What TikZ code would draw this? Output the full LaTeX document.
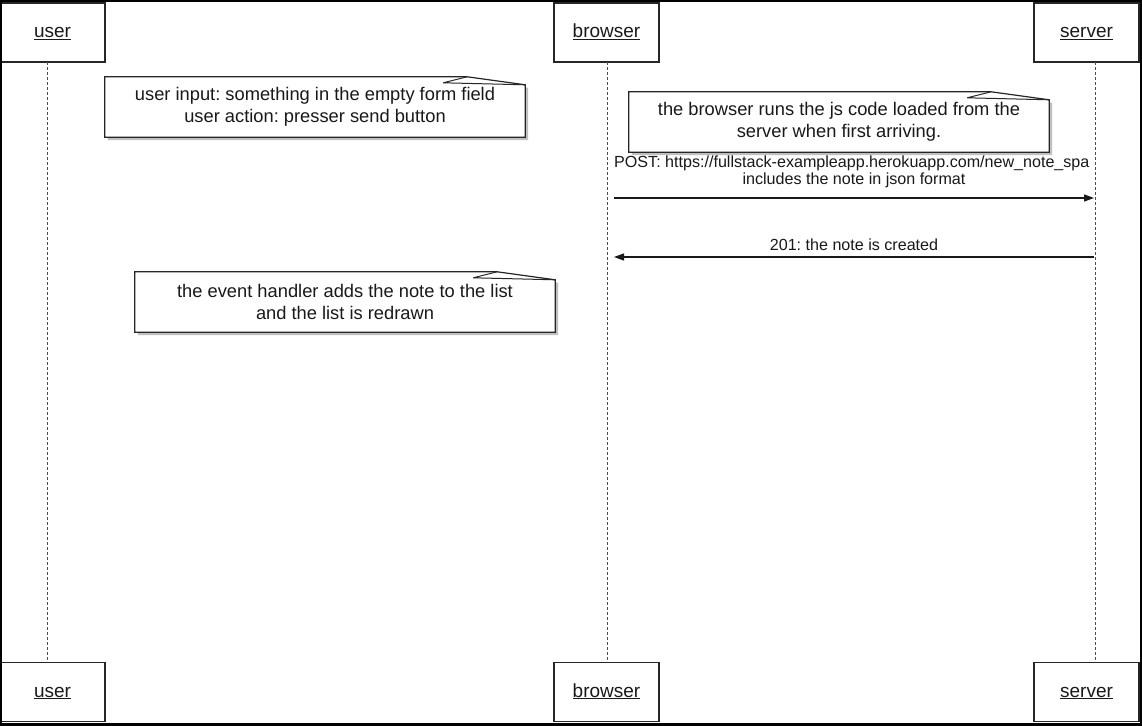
\documentclass[tikz,border=0pt]{standalone}
\usepackage{fontspec}
\setmainfont{Liberation Sans}
\usetikzlibrary{calc,arrows.meta,backgrounds}
\frenchspacing

% folded-corner note with a soft drop shadow, drawn behind node #1
\newcommand\foldednote[1]{%
  \begin{pgfonlayer}{background}
    \fill[noteshadow] ($(#1.north west)+(3,3)$) -- ($(#1.north east)+(-55,3)$)
      -- ($(#1.north east)+(3,11)$) -- ($(#1.south east)+(3,3)$)
      -- ($(#1.south west)+(3,3)$) -- cycle;
    \filldraw[noteline, fill=white] (#1.north west) -- ($(#1.north east)+(-58,0)$)
      -- ($(#1.north east)+(0,8)$) -- (#1.south east) -- (#1.south west) -- cycle;
    \draw[noteline, line width=1pt] ($(#1.north east)+(-82,6)$) -- ($(#1.north east)+(-58,0)$)
      ($(#1.north east)+(-82,6)$) -- ($(#1.north east)+(0,8)$);
  \end{pgfonlayer}}

\begin{document}
\begin{tikzpicture}[x=1pt, y=-1pt,
  actor/.style={draw=black!85, line width=1.2pt, fill=white, minimum width=105pt,
    minimum height=59pt, inner sep=0pt, text height=14pt, text depth=4pt,
    text=black!90, font=\fontsize{19}{22}\selectfont},
  lifeline/.style={draw=black!70, line width=1pt, dash pattern=on 3pt off 2pt},
  notebox/.style={minimum width=420pt, minimum height=60pt, inner sep=0pt, align=center,
    text=black!90, font=\fontsize{18.3}{22}\selectfont},
  noteline/.style={draw=black!85, line width=1.2pt, line join=miter},
  noteshadow/.style={fill=black!25},
  msg/.style={draw=black!90, line width=1.2pt, -{Triangle[length=10pt,width=7pt]}},
  msglabel/.style={inner sep=0pt, text=black!90, font=\fontsize{16.1}{18}\selectfont},
]
\useasboundingbox (0,0) rectangle (1142,725);
\begin{pgfonlayer}{background}
  \fill[white] (0,0) rectangle (1142,725);
\end{pgfonlayer}

% participants, top and bottom
\node[actor] (usertop)    at (52.5,32.5)   {\underline{user}};
\node[actor] (browsertop) at (606.5,32.5)  {\underline{browser}};
\node[actor] (servertop)  at (1086.5,32.5) {\underline{server}};
\node[actor] (userbot)    at (52.5,692)    {\underline{user}};
\node[actor] (browserbot) at (606.5,692)   {\underline{browser}};
\node[actor] (serverbot)  at (1086.5,692)  {\underline{server}};

% lifelines
\coordinate (uA) at (47,62);   \coordinate (uB) at (47,662);
\coordinate (bA) at (607,62);  \coordinate (bB) at (607,662);
\coordinate (sA) at (1095,62); \coordinate (sB) at (1095,662);
\draw[lifeline] (uA) -- (uB);
\draw[lifeline] (bA) -- (bB);
\draw[lifeline] (sA) -- (sB);

% notes
\node[notebox] (note1) at (315,107) {user input: something in the empty form field\\user action: presser send button};
\foldednote{note1}
\node[notebox] (note2) at (839,122) {the browser runs the js code loaded from the\\server when first arriving.};
\foldednote{note2}
\node[notebox] (note3) at (345,302) {the event handler adds the note to the list\\and the list is redrawn};
\foldednote{note3}

% POST request
\coordinate (post0) at (607,198);
\coordinate (post1) at (1095,198);
\draw[msg, shorten <=7pt, shorten >=1pt] (post0) -- (post1);
\begin{scope}
  \clip (608,150) rectangle (1093.5,176);
  \node[msglabel, anchor=base west] (postlbl) at (614,167) {POST: https://fullstack-exampleapp.herokuapp.com/new\_note\_spa};
\end{scope}
\node[msglabel, anchor=base] (postlbl2) at (854,184) {includes the note in json format};

% response
\coordinate (resp0) at (1095,257);
\coordinate (resp1) at (607,257);
\draw[msg, shorten <=1pt, shorten >=7pt] (resp0) -- (resp1);
\node[msglabel, anchor=base] (resplbl) at (854,250) {201: the note is created};

% window frame
\draw[black, line width=4pt] (0,0) rectangle (1142,725);
\end{tikzpicture}
\end{document}
